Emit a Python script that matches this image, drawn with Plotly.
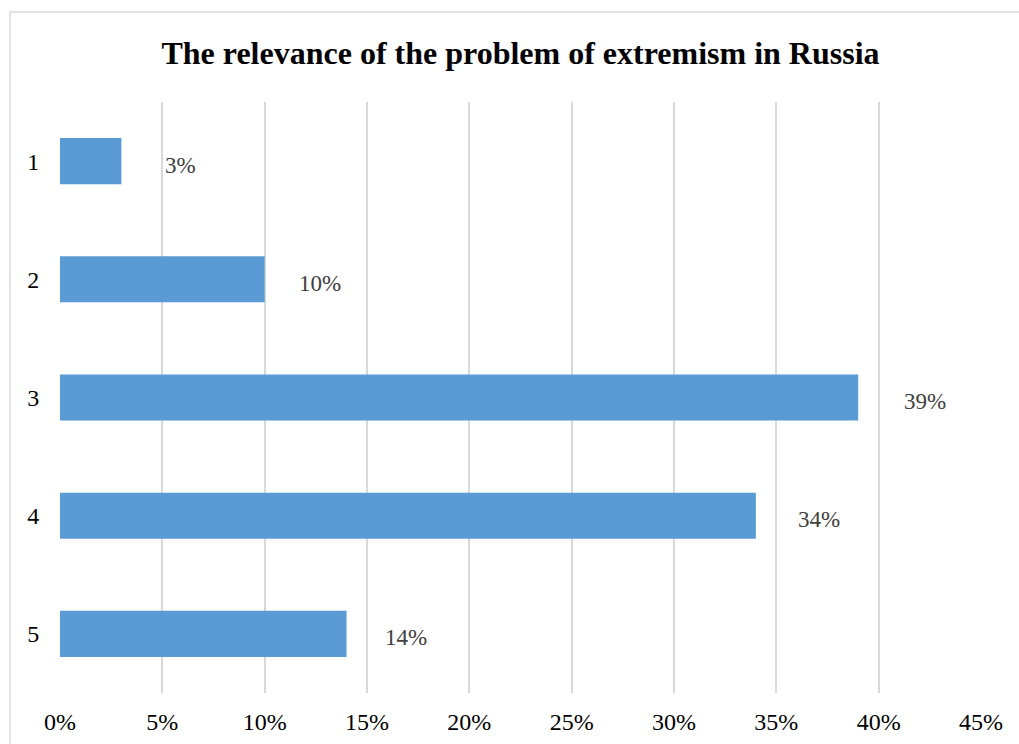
import plotly.graph_objects as go

# Survey answers (rating 1-5) and share of respondents
categories = ["1", "2", "3", "4", "5"]
shares = [0.03, 0.10, 0.39, 0.34, 0.14]
share_labels = ["3%", "10%", "39%", "34%", "14%"]
x_ticks = [0, 0.05, 0.10, 0.15, 0.20, 0.25, 0.30, 0.35, 0.40, 0.45]
x_tick_labels = ["0%", "5%", "10%", "15%", "20%", "25%", "30%", "35%", "40%", "45%"]

# horizontal gap between bar end and its value label (px)
label_pad = [42, 32, 44, 40, 36]

FONT = "Liberation Serif, Times New Roman, serif"

fig = go.Figure(
    go.Bar(
        y=categories,
        x=shares,
        orientation="h",
        width=0.39,
        marker=dict(color="#5b9bd5", line=dict(width=0)),
        hoverinfo="skip",
    )
)

# value labels; category axis positions are addressed by index
for idx, (val, lab, pad) in enumerate(zip(shares, share_labels, label_pad)):
    fig.add_annotation(
        x=val, y=idx, text=lab, showarrow=False,
        xanchor="left", yanchor="middle", xshift=pad, yshift=-4,
        font=dict(family=FONT, size=23, color="#404040"),
    )

# outer chart border
fig.add_shape(
    type="rect", xref="paper", yref="paper",
    x0=-50 / 921, x1=1.1, y0=-0.2, y1=1 + 90 / 591,
    line=dict(color="#d9d9d9", width=1.5), layer="below",
)

fig.update_layout(
    width=1019, height=744,
    margin=dict(l=60, r=38, t=102, b=51, autoexpand=False),
    paper_bgcolor="white", plot_bgcolor="white",
    showlegend=False,
    title=dict(
        text="<b>The relevance of the problem of extremism in Russia</b>",
        x=0.5, xanchor="center", xref="paper",
        y=1 - 53 / 744, yanchor="middle",
        font=dict(family=FONT, size=32, color="black"),
    ),
    xaxis=dict(
        range=[0, 0.45], tickvals=x_ticks, ticktext=x_tick_labels,
        showgrid=True, gridcolor="#d9d9d9", gridwidth=2,
        zeroline=False, showline=False, automargin=False,
        ticks="outside", ticklen=7, tickcolor="rgba(0,0,0,0)",
        tickfont=dict(family=FONT, size=24, color="black"),
    ),
    yaxis=dict(
        type="category",
        range=[4.5, -0.5], categoryorder="array", categoryarray=categories,
        showgrid=False, zeroline=False, showline=False, automargin=False,
        ticks="outside", ticklen=15, tickcolor="rgba(0,0,0,0)",
        tickfont=dict(family=FONT, size=24, color="black"),
    ),
)

fig.write_html("out.html")
